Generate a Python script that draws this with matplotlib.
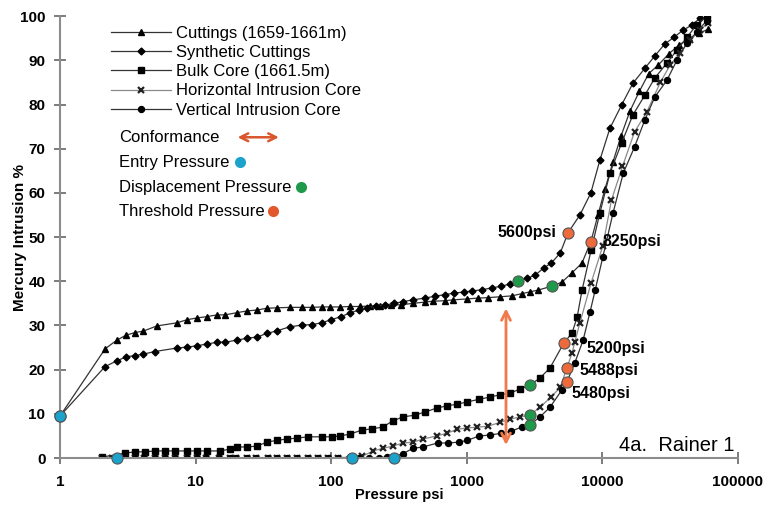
import numpy as np
import matplotlib.pyplot as plt
from matplotlib.lines import Line2D

plt.rcParams['font.family'] = ['Liberation Sans', 'DejaVu Sans']

# Cuttings (1659-1661m)
cut_p = [1, 2.15, 2.63, 3.07, 3.57, 4.09, 5.19, 7.28, 8.65, 10.2, 12.1, 14.4, 16.5, 20.2,
         24, 28.4, 33.6, 39.8, 49.7, 61, 72, 85, 98, 116, 137, 162, 193, 230, 275, 330,
         400, 492, 563, 690, 791, 1000, 1210, 1430, 1760, 2150, 2550, 2920, 3350, 4250,
         5040, 5970, 7080, 8250, 9300, 10500, 12000, 13800, 16000, 18800, 22000, 26000,
         31000, 37000, 44000, 52000, 60000]
cut_hg = [9.5, 24.7, 26.7, 27.8, 28.4, 28.7, 29.9, 30.6, 31.3, 31.7, 32.0, 32.4, 32.4, 32.9,
          33.3, 33.5, 33.9, 34.0, 34.1, 34.1, 34.1, 34.2, 34.2, 34.2, 34.3, 34.3, 34.4, 34.5,
          34.6, 34.7, 35.0, 35.3, 35.5, 35.6, 35.8, 36.0, 36.2, 36.3, 36.5, 36.7, 37.2, 37.6,
          38.0, 38.9, 39.8, 41.9, 44.1, 49.0, 55.0, 61.0, 67.0, 73.0, 78.5, 83.0, 87.0, 89.0,
          91.5, 93.5, 95.0, 96.2, 97.0]

# Synthetic cuttings
syn_p = [1, 2.15, 2.63, 3.07, 3.57, 4.09, 5.0, 7.28, 8.65, 10.2, 12.1, 14.4, 16.5, 20.2,
         24, 28.4, 33.6, 39.8, 49.7, 61, 72, 85, 100, 118, 137, 160, 185, 215, 250, 290,
         340, 400, 492, 580, 690, 800, 960, 1100, 1300, 1530, 1800, 2100, 2390, 2800, 3200,
         3700, 4200, 4900, 5600, 6840, 8240, 9600, 11380, 13940, 16830, 20600, 24400,
         28900, 33700, 39300, 45800, 52400]
syn_hg = [9.5, 20.7, 22.0, 22.9, 23.2, 23.5, 24.1, 24.9, 25.1, 25.4, 25.8, 26.2, 26.2, 26.7,
          27.1, 27.4, 28.2, 28.8, 29.7, 30.1, 30.2, 30.6, 31.3, 32.0, 32.8, 33.5, 34.0, 34.4,
          34.6, 35.0, 35.4, 35.8, 36.2, 36.6, 37.0, 37.3, 37.6, 37.8, 38.1, 38.5, 38.9, 39.4,
          40.0, 40.7, 41.4, 43.0, 44.1, 46.4, 51.0, 55.0, 60.0, 67.4, 74.6, 80.0, 84.8, 88.2,
          91.0, 93.7, 95.2, 96.8, 98.0, 99.5]

# Bulk core (1661.5m)
bulk_p = [2.03, 3.02, 3.57, 4.24, 5.02, 5.95, 7.05, 8.65, 10.2, 12.1, 15.1, 17.9, 20.2, 24,
          28.4, 33.6, 39.8, 47.1, 55.8, 67.4, 85.3, 101, 116, 137, 168, 199, 240, 285, 338,
          414, 491, 601, 712, 855, 1010, 1240, 1480, 1760, 2090, 2470, 2925, 3470, 4120,
          5200, 5990, 6530, 7100, 8270, 9600, 11400, 13900, 16800, 20600, 24400, 30000,
          35500, 42000, 49700, 59000]
bulk_hg = [0.2, 1.1, 1.4, 1.4, 1.6, 1.6, 1.6, 1.6, 1.6, 1.6, 1.6, 2.0, 2.5, 2.5, 2.7, 3.6,
           4.0, 4.3, 4.5, 4.8, 4.8, 4.8, 5.0, 5.4, 6.3, 6.6, 7.0, 8.4, 9.3, 9.7, 10.4, 11.3,
           11.8, 12.2, 12.7, 13.3, 13.8, 14.3, 14.7, 15.6, 16.5, 18.1, 20.4, 26.0, 28.3, 31.9,
           38.0, 47.0, 55.4, 64.5, 71.3, 77.6, 82.1, 86.0, 89.4, 92.3, 95.2, 98.0, 100.0]

# Horizontal intrusion core
hor_p = [2.03, 2.4, 3.0, 3.6, 4.2, 5.0, 6.0, 7.0, 8.6, 10.2, 12, 15, 18, 20, 24, 28, 34, 40,
         47, 56, 67, 80, 95, 113, 142, 170, 204, 241, 286, 339, 402, 477, 600, 712, 855,
         1000, 1200, 1440, 1770, 2090, 2470, 2925, 3470, 4200, 4900, 5488, 5990, 6270, 6830,
         8270, 10100, 11700, 14100, 17300, 21300, 26800, 31600, 37400, 44300, 52500, 60000]
hor_hg = [0.0, 0.0, 0.0, 0.0, 0.0, 0.0, 0.0, 0.0, 0.0, 0.0, 0.0, 0.0, 0.0, 0.0, 0.0, 0.0,
          0.0, 0.0, 0.0, 0.0, 0.0, 0.0, 0.1, 0.1, 0.2, 0.4, 1.6, 2.2, 2.7, 3.4, 3.6, 4.3, 5.0,
          5.6, 6.5, 6.8, 7.0, 7.2, 8.1, 8.8, 9.3, 9.7, 11.5, 13.8, 16.0, 20.4, 23.8, 26.2,
          30.5, 39.6, 48.0, 58.4, 66.0, 73.8, 78.3, 85.0, 88.9, 91.6, 94.6, 96.8, 98.4]

# Vertical intrusion core
ver_p = [2.03, 2.5, 3.0, 3.6, 4.2, 5.0, 6.0, 7.0, 8.6, 10.2, 12, 15, 18, 20, 24, 28, 34, 40,
         47, 56, 67, 80, 95, 113, 135, 160, 190, 225, 260, 290, 339, 402, 477, 610, 725, 880,
         1010, 1240, 1480, 1800, 2140, 2540, 2925, 3470, 4120, 5040, 5480, 6270, 7230, 8120,
         8870, 10100, 12000, 14300, 17300, 20600, 24400, 30000, 35500, 42000, 49700, 59000]
ver_hg = [0.0, 0.0, 0.0, 0.0, 0.0, 0.0, 0.0, 0.0, 0.0, 0.0, 0.0, 0.0, 0.0, 0.0, 0.0, 0.0,
          0.0, 0.0, 0.0, 0.0, 0.0, 0.0, 0.0, 0.0, 0.0, 0.0, 0.0, 0.1, 0.2, 0.3, 1.0, 2.2, 2.5,
          3.4, 3.4, 3.6, 4.0, 5.0, 5.2, 5.6, 6.1, 7.0, 7.5, 9.3, 11.5, 15.4, 17.2, 21.5, 26.7,
          33.0, 38.0, 45.5, 55.4, 64.5, 70.4, 76.5, 81.7, 85.5, 90.0, 93.9, 96.4, 99.0]

# Key pressures picked on the curves
entry_p = [1, 1, 2.63, 142, 290]
entry_hg = [9.5, 9.5, 0.0, 0.0, 0.0]
disp_p = [4250, 2390, 2925, 2925, 2925]
disp_hg = [38.9, 40.0, 16.5, 9.7, 7.5]
thr_p = [8250, 5600, 5200, 5488, 5480]
thr_hg = [49.0, 51.0, 26.0, 20.4, 17.2]

fig = plt.figure(figsize=(7.72, 5.07), dpi=100)
ax = fig.add_axes([0.0777, 0.0966, 0.878, 0.8714])

line_kw = dict(color='#333333', lw=0.9, mfc='black', mec='black')
h1, = ax.plot(cut_p, cut_hg, marker='^', ms=5, label='Cuttings (1659-1661m)', **line_kw)
h2, = ax.plot(syn_p, syn_hg, marker='D', ms=3.5, label='Synthetic Cuttings', **line_kw)
h3, = ax.plot(bulk_p, bulk_hg, marker='s', ms=4.5, label='Bulk Core (1661.5m)', **line_kw)
h4, = ax.plot(hor_p, hor_hg, marker='x', ms=4.5, mew=1.6, color='#8a8a8a', lw=0.9,
              mec='#222222', label='Horizontal Intrusion Core')
h5, = ax.plot(ver_p, ver_hg, marker='o', ms=4.3, label='Vertical Intrusion Core', **line_kw)

dot_kw = dict(ls='none', marker='o', ms=8, mec='#555555', mew=0.8, zorder=5)
ax.plot(entry_p, entry_hg, mfc='#1ba3cc', clip_on=False, **dot_kw)
ax.plot(disp_p, disp_hg, mfc='#1f9a4a', **dot_kw)
ax.plot(thr_p, thr_hg, mfc='#ec6a3c', **dot_kw)

# threshold pressure labels
ax.text(4600, 51, '5600psi', ha='right', va='center', fontsize=11.5, fontweight='bold')
ax.text(10100, 49, '8250psi', ha='left', va='center', fontsize=11.5, fontweight='bold')
ax.text(7700, 24.9, '5200psi', ha='left', va='center', fontsize=11.5, fontweight='bold')
ax.text(6800, 19.7, '5488psi', ha='left', va='center', fontsize=11.5, fontweight='bold')
ax.text(5950, 14.5, '5480psi', ha='left', va='center', fontsize=11.5, fontweight='bold')
ax.text(95000, 2.9, '4a.  Rainer 1', ha='right', va='center', fontsize=14.5)

# conformance span
ax.annotate('', xy=(1950, 2.3), xytext=(1950, 34.5),
            arrowprops=dict(arrowstyle='<->', color='#f07a4a', lw=2, mutation_scale=16))

ax.set_xscale('log')
ax.set_xlim(1, 100000)
ax.set_ylim(0, 100)
ax.set_xticks([1, 10, 100, 1000, 10000, 100000])
ax.set_xticklabels(['1', '10', '100', '1000', '10000', '100000'])
ax.minorticks_off()
ax.set_yticks(range(0, 101, 10))

for side in ['top', 'right']:
    ax.spines[side].set_visible(False)
for side in ['left', 'bottom']:
    ax.spines[side].set_color('#8c8c8c')
    ax.spines[side].set_linewidth(1.5)
ax.tick_params(axis='both', direction='inout', length=9, width=1.2, color='#666666',
               labelsize=11)
ax.tick_params(axis='x', pad=8)
ax.tick_params(axis='y', pad=6)
for lab in ax.get_xticklabels() + ax.get_yticklabels():
    lab.set_fontweight('bold')

ax.set_xlabel('Pressure psi', fontsize=10.5, fontweight='bold', labelpad=-1)
ax.set_ylabel('Mercury Intrusion %', fontsize=11, fontweight='bold', labelpad=-5)

ax.legend(handles=[h1, h2, h3, h4, h5], loc='upper left', bbox_to_anchor=(0.065, 0.993),
          frameon=False, fontsize=12, handlelength=3.6, handletextpad=0.3,
          labelspacing=0.25, numpoints=1, borderaxespad=0)

# key to the coloured markers
ax.text(0.087, 0.726, 'Conformance', transform=ax.transAxes, fontsize=12, va='center')
ax.annotate('', xy=(0.327, 0.726), xytext=(0.258, 0.726), xycoords='axes fraction',
            arrowprops=dict(arrowstyle='<->', color='#d9552b', lw=1.8, mutation_scale=14))
key_rows = [('Entry Pressure', 0.670, 0.265, '#1ba3cc'),
            ('Displacement Pressure', 0.613, 0.355, '#1f9a4a'),
            ('Threshold Pressure', 0.559, 0.314, '#e0582c')]
for name, y, xd, col in key_rows:
    ax.text(0.087, y, name, transform=ax.transAxes, fontsize=12, va='center')
    ax.plot(xd, y, 'o', ms=8, mfc=col, mec='none', transform=ax.transAxes, clip_on=False)

fig.savefig('out.png', dpi=100)
